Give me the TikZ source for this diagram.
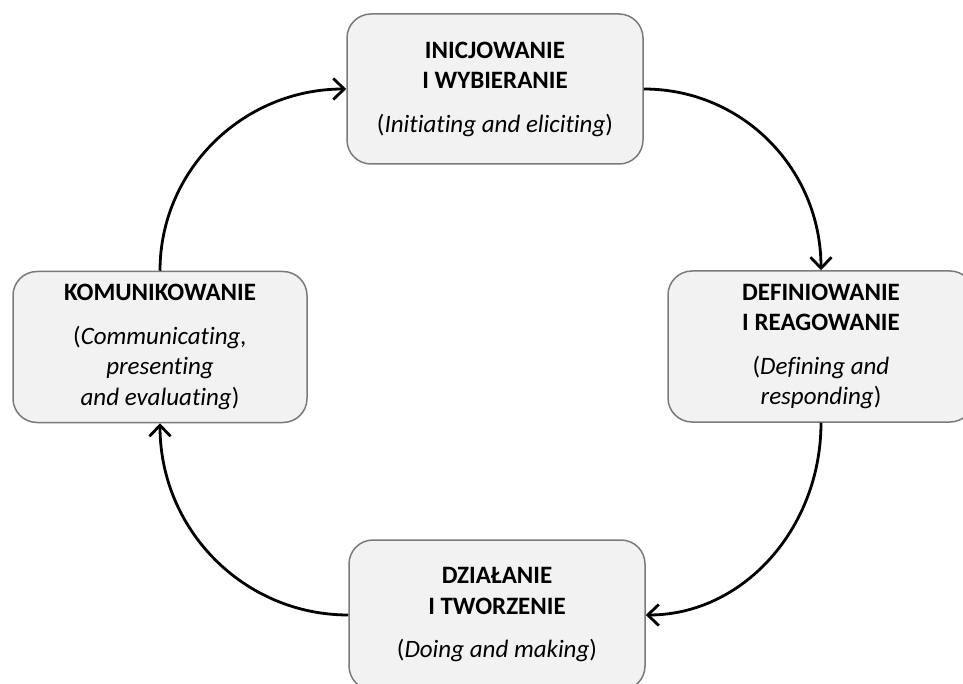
\documentclass[tikz,border=0pt]{standalone}
\usepackage{fontspec}
\setmainfont{Carlito}[Ligatures={NoCommon}]
\usetikzlibrary{arrows.meta}
\definecolor{boxfill}{HTML}{F2F2F2}
\definecolor{boxgray}{HTML}{7A7A7A}
\begin{document}
\begin{tikzpicture}[x=1pt,y=-1pt,
  stagebox/.style={draw=boxgray, line width=1.5pt, fill=boxfill, rounded corners=24pt,
    align=center, inner sep=0pt, minimum height=150pt,
    font=\fontsize{25}{30.5}\selectfont},
  cyc/.style={line width=2.8pt, -{Straight Barb[length=11pt,width=21pt,line width=2.8pt]}}]
\useasboundingbox (0,0) rectangle (963,684);
\node[stagebox, minimum width=296pt] (init) at (495,89)
  {\textbf{INICJOWANIE}\\\textbf{I WYBIERANIE}\\[13pt](\textit{Initiating and eliciting})};
\node[stagebox, minimum width=306pt, minimum height=151pt] (defn) at (821,346.5)
  {\textbf{DEFINIOWANIE}\\\textbf{I REAGOWANIE}\\[13pt](\textit{Defining and}\\\textit{responding})};
\node[stagebox, minimum width=296pt] (act) at (497,615)
  {\textbf{DZIAŁANIE}\\\textbf{I TWORZENIE}\\[13pt](\textit{Doing and making})};
\node[stagebox, minimum width=294pt, minimum height=151pt] (komm) at (160,347)
  {\textbf{KOMUNIKOWANIE}\\[13pt](\textit{Communicating,}\\\textit{presenting}\\\textit{and evaluating})};
\draw[cyc] (init.east) .. controls +(99,0) and +(0,-101) .. (defn.north);
\draw[cyc] (defn.south) .. controls +(0,106) and +(97,0) .. (act.east);
\draw[cyc] (act.west) .. controls +(-104,0) and +(0,107) .. (komm.south);
\draw[cyc] (komm.north) .. controls +(0,-101) and +(-103,0) .. (init.west);
\end{tikzpicture}
\end{document}
